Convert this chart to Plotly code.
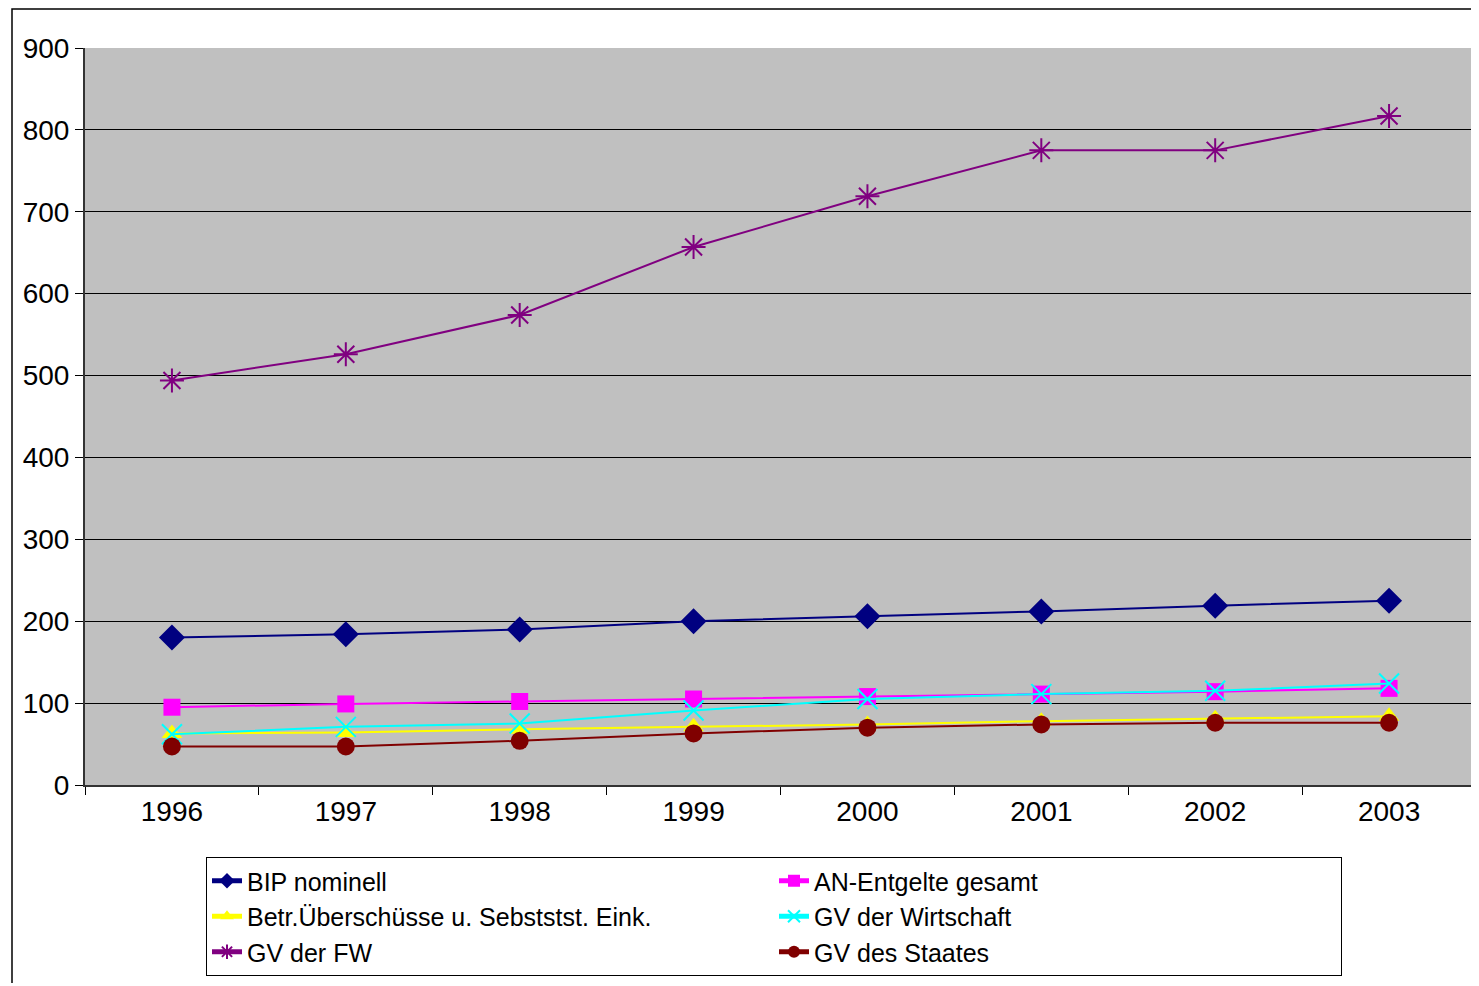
import plotly.graph_objects as go

years = ["1996", "1997", "1998", "1999", "2000", "2001", "2002", "2003"]
bip_nominell = [180, 184, 190, 200, 206, 212, 219, 225]
an_entgelte = [95, 99, 102, 105, 108, 111, 114, 118]
betr_ueberschuesse = [63, 64, 68, 71, 74, 78, 81, 84]
gv_wirtschaft = [62, 71, 75, 91, 105, 111, 115, 124]
gv_fw = [494, 526, 574, 657, 719, 775, 775, 817]
gv_staates = [47, 47, 54, 63, 70, 74, 76, 76]

series = [
    ("BIP nominell", bip_nominell, "#000080", "diamond", 20),
    ("AN-Entgelte gesamt", an_entgelte, "#FF00FF", "square", 17),
    ("Betr.Überschüsse u. Sebststst. Eink.", betr_ueberschuesse, "#FFFF00", "triangle-up", 18),
    ("GV der Wirtschaft", gv_wirtschaft, "#00FFFF", "x-thin-open", 20),
    ("GV der FW", gv_fw, "#800080", "asterisk-open", 20),
    ("GV des Staates", gv_staates, "#800000", "circle", 18),
]

fig = go.Figure()
for name, vals, color, sym, size in series:
    open_sym = sym.endswith("open")
    fig.add_trace(go.Scatter(
        x=years, y=vals, name=name, mode="lines+markers",
        line=dict(color=color, width=2),
        marker=dict(symbol=sym, size=size, color=color,
                    line=dict(color=color, width=2 if open_sym else 0)),
    ))

# page has an 8px body margin; figure coords = screen coords - 8
OFF = 8
W, H = 1468, 975
L, T = 85 - OFF, 48 - OFF
R = W - (1476 - OFF)
B = H - (785 - OFF)
pw, ph = W - L - R, H - T - B

def px_x(sx):
    return (sx - OFF - L) / pw

def px_y(sy):
    return ((785 - OFF) - (sy - OFF)) / ph

tickfont = dict(family="Liberation Sans, Arial", size=28, color="black")

fig.update_layout(
    width=W, height=H,
    margin=dict(l=L, r=R, t=T, b=B),
    paper_bgcolor="white",
    plot_bgcolor="#C0C0C0",
    showlegend=True,
    legend=dict(
        orientation="h",
        x=px_x(206), y=px_y(857),
        xanchor="left", yanchor="top",
        bordercolor="black", borderwidth=1,
        bgcolor="white",
        entrywidth=522,
        font=dict(family="Liberation Sans, Arial", size=25, color="black"),
        itemsizing="constant",
    ),
    xaxis=dict(
        type="category",
        tickson="boundaries",
        ticks="outside", ticklen=8, tickcolor="black",
        showline=True, linecolor="#333333", linewidth=2,
        showgrid=False,
        tickfont=tickfont,
        range=[-0.5, 7.5],
    ),
    yaxis=dict(
        range=[0, 900], dtick=100,
        ticks="outside", ticklen=8, tickcolor="black",
        showline=True, linecolor="#333333", linewidth=2,
        showgrid=True, gridcolor="black", gridwidth=1,
        zeroline=False,
        tickfont=tickfont,
    ),
    shapes=[dict(
        type="rect", xref="paper", yref="paper",
        x0=px_x(12), x1=px_x(1490),
        y0=px_y(995), y1=px_y(9),
        line=dict(color="black", width=1.5), fillcolor="rgba(0,0,0,0)",
        layer="below",
    )],
)

fig.write_html("out.html")
